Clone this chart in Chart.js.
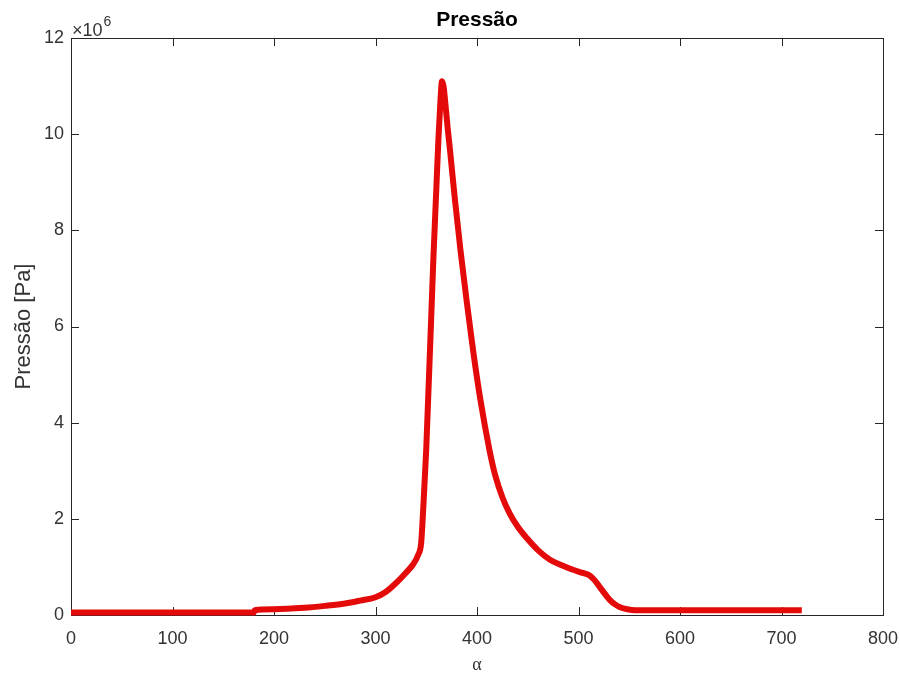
<!DOCTYPE html>
<html>
<head>
<meta charset="utf-8">
<script src="https://cdn.jsdelivr.net/npm/chart.js@4/dist/chart.umd.min.js"></script>
<style>
  html, body { margin: 0; padding: 0; background: #fff; }
  #wrap { width: 900px; height: 674px; position: relative; }
</style>
</head>
<body>
<div id="wrap"><canvas id="c" width="900" height="674"></canvas></div>
<script>
// Crank angle alpha (degrees)
const alpha = [0, 180, 181, 200, 230, 250, 270, 285, 300, 310, 320, 330, 337, 342, 345, 347, 350, 357, 360, 362, 364, 365.5,
               367, 369, 371, 373.4, 378.3, 383.7, 389.7, 396.1, 403.4, 412.3, 418, 425, 432, 440, 449, 460, 471.9, 484, 494.6, 505, 511,
               516, 521, 526, 531, 536, 541, 548, 556, 600, 720];
// Pressure values, in units of 10^6 Pa
const pressure = [0.05, 0.05, 0.10, 0.12, 0.15, 0.19, 0.24, 0.30, 0.37, 0.48, 0.66, 0.88, 1.05, 1.25, 1.5, 2.2, 3.45, 7.4, 8.9, 9.9, 10.7, 11.1,
                  11.0, 10.6, 10.15, 9.67, 8.63, 7.59, 6.55, 5.51, 4.47, 3.43, 2.9, 2.45, 2.12, 1.84, 1.6, 1.35, 1.15, 1.03, 0.94, 0.87, 0.82,
                  0.72, 0.58, 0.44, 0.31, 0.22, 0.16, 0.12, 0.10, 0.10, 0.10];
const xTicks = [0, 100, 200, 300, 400, 500, 600, 700, 800];
const yTicks = [0, 2, 4, 6, 8, 10, 12];
const titleText = 'Pressão';
const yLabel = 'Pressão [Pa]';
const xLabel = 'α';

const points = alpha.map((a, i) => ({ x: a, y: pressure[i] }));

const boxPlugin = {
  id: 'matlabBox',
  beforeDatasetsDraw(chart) {
    const { ctx, chartArea: a, scales } = chart;
    ctx.save();
    ctx.strokeStyle = '#262626';
    ctx.lineWidth = 1;
    ctx.strokeRect(Math.round(a.left) + 0.5, Math.round(a.top) + 0.5,
                   Math.round(a.right - a.left), Math.round(a.bottom - a.top));
    const L = 8;
    ctx.beginPath();
    scales.x.ticks.forEach(t => {
      const px = Math.round(scales.x.getPixelForValue(t.value)) + 0.5;
      ctx.moveTo(px, a.bottom); ctx.lineTo(px, a.bottom - L);
      ctx.moveTo(px, a.top); ctx.lineTo(px, a.top + L);
    });
    scales.y.ticks.forEach(t => {
      const py = Math.round(scales.y.getPixelForValue(t.value)) + 0.5;
      ctx.moveTo(a.left, py); ctx.lineTo(a.left + L, py);
      ctx.moveTo(a.right, py); ctx.lineTo(a.right - L, py);
    });
    ctx.stroke();
    ctx.restore();
  },
  afterDraw(chart) {
    const { ctx, chartArea: a } = chart;
    ctx.save();
    ctx.fillStyle = '#333';
    ctx.textBaseline = 'alphabetic';
    ctx.textAlign = 'left';
    ctx.font = '18px "Liberation Sans", Arial, sans-serif';
    const base = '\u00d710';
    ctx.fillText(base, a.left + 1, 36);
    const w = ctx.measureText(base).width;
    ctx.font = '14px "Liberation Sans", Arial, sans-serif';
    ctx.fillText('6', a.left + 1 + w + 1, 26);
    ctx.restore();
  }
};

new Chart(document.getElementById('c'), {
  type: 'line',
  data: {
    datasets: [{
      data: points,
      borderColor: 'rgb(228,10,10)',
      borderWidth: 6,
      pointRadius: 0,
      fill: false,
      cubicInterpolationMode: 'monotone',
      clip: false
    }]
  },
  options: {
    responsive: false,
    animation: false,
    layout: { padding: { left: 0, right: 17, top: 0, bottom: 0 } },
    plugins: {
      legend: { display: false },
      tooltip: { enabled: false },
      title: {
        display: true,
        text: titleText,
        fullSize: false,
        color: '#000',
        font: { family: '"Liberation Sans", Arial, sans-serif', size: 21, weight: 'bold' },
        padding: { top: 8, bottom: 4.8 }
      }
    },
    scales: {
      x: {
        type: 'linear',
        min: 0, max: 800,
        afterFit(s) { s.height = 59; s.paddingLeft = 0; s.paddingRight = 0; },
        afterBuildTicks(s) { s.ticks = xTicks.map(v => ({ value: v })); },
        grid: { display: false, drawTicks: false },
        border: { display: false },
        ticks: {
          color: '#333',
          padding: 13,
          maxRotation: 0,
          font: { family: '"Liberation Sans", Arial, sans-serif', size: 18 }
        },
        title: {
          display: true,
          text: xLabel,
          color: '#333',
          font: { family: '"Liberation Serif", "DejaVu Serif", serif', size: 18, lineHeight: 1 },
          padding: 0
        }
      },
      y: {
        type: 'linear',
        min: 0, max: 12,
        afterFit(s) { s.width = 71; },
        afterBuildTicks(s) { s.ticks = yTicks.map(v => ({ value: v })); },
        grid: { display: false, drawTicks: false },
        border: { display: false },
        ticks: {
          color: '#333',
          padding: 7,
          font: { family: '"Liberation Sans", Arial, sans-serif', size: 18 }
        },
        title: {
          display: true,
          text: yLabel,
          color: '#333',
          font: { family: '"Liberation Sans", Arial, sans-serif', size: 22 },
          padding: { top: 11, bottom: 0 }
        }
      }
    }
  },
  plugins: [boxPlugin]
});
</script>
</body>
</html>
